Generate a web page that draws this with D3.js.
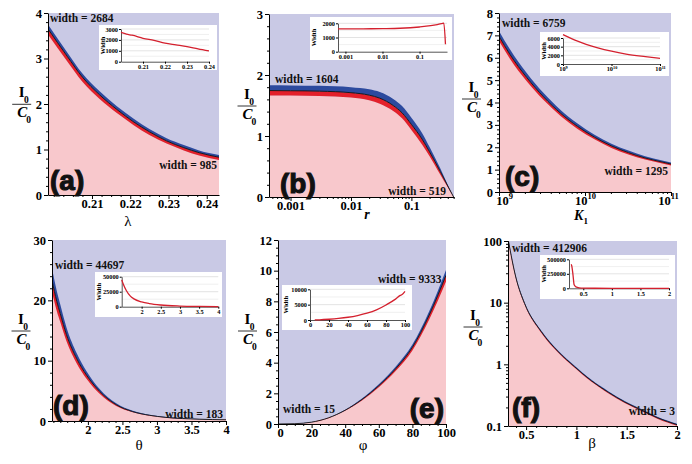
<!DOCTYPE html>
<html><head><meta charset="utf-8">
<script src="https://cdn.jsdelivr.net/npm/d3@7"></script>
<style>body{margin:0;background:#fff}svg{display:block}</style>
</head><body>
<svg id="c" width="692" height="464"></svg>
<script>
// ---------------- DATA ----------------
const panelLetters = ["(a)", "(b)", "(c)", "(d)", "(e)", "(f)"];
const xAxisTitles = ["λ", "r", "K", "θ", "φ", "β"];
const widthTopLabels = ["width = 2684", "width = 1604", "width = 6759", "width = 44697", "width = 9333", "width = 412906"];
const widthBottomLabels = ["width = 985", "width = 519", "width = 1295", "width = 183", "width = 15", "width = 3"];

// (a) lambda
const lambdaVals = [0.1985, 0.2035, 0.2075, 0.212, 0.2165, 0.221, 0.225, 0.2295, 0.234, 0.238, 0.2432];
const aMid = [3.65, 3.05, 2.59, 2.20, 1.88, 1.60, 1.39, 1.19, 1.04, 0.93, 0.83];
const aHi  = [3.75, 3.14, 2.67, 2.28, 1.95, 1.67, 1.45, 1.25, 1.10, 0.98, 0.88];
const aLo  = [3.53, 2.94, 2.49, 2.11, 1.80, 1.53, 1.32, 1.13, 0.98, 0.87, 0.77];
const aXTicks = [0.21, 0.22, 0.23, 0.24];
const aYTicks = [0, 1, 2, 3, 4];
const aInsetX = [0.2, 0.2025, 0.205, 0.21, 0.215, 0.22, 0.225, 0.23, 0.235, 0.24];
const aInsetW = [2684, 2520, 2430, 2150, 1950, 1700, 1540, 1380, 1170, 985];
const aInsetYTicks = [0, 1000, 2000, 3000];

// (b) r
const rVals = [0.00044, 0.001, 0.003, 0.01, 0.02, 0.03, 0.05, 0.07, 0.1, 0.15, 0.2, 0.3, 0.4, 0.5];
const bMid = [1.745, 1.742, 1.735, 1.71, 1.67, 1.62, 1.50, 1.38, 1.19, 0.95, 0.74, 0.42, 0.18, 0];
const bHi  = [1.83, 1.828, 1.822, 1.80, 1.765, 1.72, 1.605, 1.49, 1.30, 1.05, 0.82, 0.47, 0.20, 0];
const bLo  = [1.665, 1.662, 1.655, 1.63, 1.585, 1.53, 1.41, 1.29, 1.10, 0.86, 0.67, 0.37, 0.16, 0];
const bXTicks = [0.001, 0.01, 0.1];
const bYTicks = [0, 1, 2, 3];
const bInsetX = [0.00063, 0.001, 0.003, 0.01, 0.03, 0.1, 0.2, 0.3, 0.4, 0.45, 0.5];
const bInsetW = [1604, 1606, 1612, 1625, 1650, 1740, 1830, 1910, 1980, 2010, 519];
const bInsetYTicks = [0, 1000, 2000];

// (c) K1
const kVals = [1e9, 1.34e9, 2.1e9, 3.3e9, 5.2e9, 8.2e9, 1.29e10, 2.03e10, 3.2e10, 5e10, 7.9e10, 1e11];
const cMid = [6.96, 6.15, 5.12, 4.25, 3.52, 2.93, 2.45, 2.06, 1.76, 1.52, 1.34, 1.25];
const cHi  = [7.20, 6.38, 5.32, 4.42, 3.67, 3.06, 2.56, 2.16, 1.85, 1.60, 1.41, 1.32];
const cLo  = [6.75, 5.96, 4.95, 4.11, 3.40, 2.82, 2.36, 1.97, 1.68, 1.45, 1.27, 1.18];
const cXTicks = [1e9, 1e10, 1e11];
const cYTicks = [0, 1, 2, 3, 4, 5, 6, 7, 8];
const cInsetX = [1e9, 1.5e9, 2e9, 3e9, 5e9, 1e10, 2e10, 5e10, 1e11];
const cInsetW = [6759, 5850, 5260, 4550, 3800, 2950, 2300, 1700, 1295];
const cInsetYTicks = [0, 2000, 4000, 6000];

// (d) theta
const thetaVals = [1.48, 1.55, 1.60, 1.69, 1.84, 1.98, 2.17, 2.41, 2.65, 2.89, 3.13, 3.61, 4.0];
const dMid = [23.3, 19.8, 17.8, 14.3, 10.3, 7.6, 4.9, 2.7, 1.55, 0.95, 0.6, 0.3, 0.2];
const dHi  = [25.3, 21.5, 19.3, 15.5, 11.2, 8.25, 5.3, 2.93, 1.68, 1.03, 0.65, 0.33, 0.22];
const dLo  = [21.4, 18.2, 16.4, 13.2, 9.5, 7.0, 4.5, 2.48, 1.43, 0.87, 0.55, 0.28, 0.18];
const dXTicks = [2, 2.5, 3, 3.5, 4];
const dYTicks = [0, 10, 20, 30];
const dInsetX = [1.48, 1.52, 1.6, 1.7, 1.8, 2.0, 2.2, 2.5, 3.0, 3.5, 4.0];
const dInsetW = [44697, 38000, 27000, 18000, 13000, 8000, 5200, 2800, 1100, 450, 183];
const dInsetXTicks = [2, 2.5, 3, 3.5, 4];
const dInsetYTicks = [0, 25000, 50000];

// (e) phi
const phiVals = [0, 10, 20, 30, 40, 50, 60, 70, 80, 90, 100];
const eMid = [0, 0.02, 0.12, 0.4, 0.9, 1.6, 2.5, 3.6, 5.0, 7.1, 9.7];
const eHi  = [0, 0.02, 0.125, 0.41, 0.93, 1.66, 2.59, 3.73, 5.18, 7.35, 10.05];
const eLo  = [0, 0.02, 0.115, 0.38, 0.86, 1.53, 2.40, 3.45, 4.80, 6.82, 9.3];
const eXTicks = [0, 20, 40, 60, 80, 100];
const eYTicks = [0, 2, 4, 6, 8, 10, 12];
const eInsetX = [5, 10, 20, 30, 40, 50, 60, 70, 80, 90, 95, 97, 100];
const eInsetW = [15, 60, 250, 520, 900, 1450, 2200, 3300, 4900, 6800, 8000, 8300, 9333];
const eInsetYTicks = [0, 5000, 10000];

// (f) beta
const betaVals = [0.322, 0.40, 0.485, 0.65, 0.82, 0.98, 1.15, 1.32, 1.48, 1.65, 1.81, 2.0];
const fMid = [105, 25, 9.7, 3.4, 1.6, 0.92, 0.54, 0.35, 0.245, 0.18, 0.135, 0.105];
const fHi  = [109, 26, 10.1, 3.54, 1.66, 0.955, 0.56, 0.363, 0.254, 0.187, 0.14, 0.109];
const fLo  = [101, 24, 9.3, 3.26, 1.54, 0.885, 0.52, 0.337, 0.236, 0.173, 0.13, 0.101];
const fXTicks = [0.5, 1, 1.5, 2];
const fYTicks = [0.1, 1, 10, 100];
const fInsetX = [0.29, 0.3, 0.32, 0.34, 0.37, 0.43, 0.5, 0.7, 1, 1.5, 2];
const fInsetW = [412906, 380000, 230000, 60000, 25000, 8000, 3000, 500, 100, 20, 3];
const fInsetXTicks = [0.5, 1, 1.5, 2];
const fInsetYTicks = [0, 250000, 500000];

// ---------------- DRAWING ----------------
const svg = d3.select("#c");
const COL = {lav: "#c9c9e5", pink: "#f8c8cc", red: "#e3202a", blue: "#2c4a9e", ins: "#d4202e"};
const SERIF = "'Liberation Serif', 'Times New Roman', serif";
const SANS = "'Liberation Sans', Arial, sans-serif";

function minorLog(dom) {
  const out = [];
  const lo = Math.floor(Math.log10(dom[0])), hi = Math.ceil(Math.log10(dom[1]));
  for (let e = lo; e < hi; e++) for (let k = 2; k <= 9; k++) {
    const v = k * Math.pow(10, e);
    if (v >= dom[0] && v <= dom[1]) out.push(v);
  }
  return out;
}
function minorLin(dom, step) {
  const out = [];
  for (let v = Math.ceil(dom[0] / step) * step; v <= dom[1] + 1e-9; v += step) out.push(+v.toFixed(6));
  return out;
}
const supFmt = d => "10^" + Math.round(Math.log10(d));

function styleAxis(a, size) {
  a.attr("font-family", null).attr("font-size", null);
  a.selectAll("text").style("font-family", SERIF).style("font-weight", "bold")
    .style("font-size", size + "px").attr("fill", "#000");
  a.select(".domain").attr("stroke", "#000");
  a.selectAll(".tick line").attr("stroke", "#000");
  a.selectAll("text").each(function () {
    const t = d3.select(this), s = t.text();
    if (s.startsWith("10^")) {
      const ex = s.slice(3);
      t.text("10");
      t.append("tspan").attr("dy", -size * 0.45).style("font-size", (size * 0.68) + "px").text(ex);
    }
  });
}
function txt(g, x, y, s, o) {
  o = o || {};
  return g.append("text").attr("x", x).attr("y", y).attr("text-anchor", o.a || "start")
    .style("font-family", o.fam || SERIF).style("font-weight", o.w || "bold")
    .style("font-style", o.it ? "italic" : "normal").style("font-size", (o.sz || 12) + "px")
    .attr("fill", o.fill || "#000").text(s);
}

const panels = [
  {L: 48, R: 219, T: 13, B: 195, xLog: false, xDom: [0.1985, 0.2432], yLog: false, yDom: [0, 4],
   xs: lambdaVals, lo: aLo, mid: aMid, hi: aHi, xTicks: aXTicks, yTicks: aYTicks,
   xFmt: d3.format(".2f"), yFmt: String, yMinor: minorLin([0, 4], 0.2), xMinor: minorLin([0.2, 0.24], 0.0025),
   xl: {x: 128, y: 226, italic: false, size: 15}, frac: {cx: 21.7, ly: 104.3},
   letter: {x: 50, y: 190}, wTop: {x: 50, y: 22, a: "start"}, wBot: {x: 217, y: 169, a: "end"},
   inset: {bx: 99, by: 25, bw: 118, bh: 45, L: 121, R: 209, T: 29, B: 61.7, xLog: false, xDom: [0.2, 0.24], yMax: 3000,
           xs: aInsetX, ws: aInsetW, xTicks: aXTicks, yTicks: aInsetYTicks, xFmt: d3.format(".2f")}},
  {L: 269, R: 454, T: 14, B: 197, xLog: true, xDom: [0.00044, 0.507], yLog: false, yDom: [0, 3],
   xs: rVals, lo: bLo, mid: bMid, hi: bHi, xTicks: bXTicks, yTicks: bYTicks,
   xFmt: String, yFmt: String, yMinor: minorLin([0, 3], 0.2), xMinor: minorLog([0.00044, 0.507]),
   xl: {x: 367, y: 219, italic: true, size: 14}, frac: {cx: 247, ly: 106},
   letter: {x: 280, y: 193}, wTop: {x: 275, y: 83, a: "start"}, wBot: {x: 446, y: 195, a: "end"},
   inset: {bx: 310, by: 17, bw: 142, bh: 43, L: 338, R: 447, T: 23.3, B: 51.7, xLog: true, xDom: [0.00063, 0.55], yMax: 2000,
           xs: bInsetX, ws: bInsetW, xTicks: bXTicks, yTicks: bInsetYTicks, xFmt: String}},
  {L: 499, R: 671, T: 13, B: 192, xLog: true, xDom: [1e9, 1e11], yLog: false, yDom: [0, 8],
   xs: kVals, lo: cLo, mid: cMid, hi: cHi, xTicks: cXTicks, yTicks: cYTicks, xShift: [5, 0, -3],
   xFmt: supFmt, yFmt: String, yMinor: minorLin([0, 8], 0.2), xMinor: minorLog([1e9, 1e11]),
   xl: {x: 581, y: 220, italic: true, size: 14, sub: "1"}, frac: {cx: 471.5, ly: 99},
   letter: {x: 505, y: 185.5}, wTop: {x: 502, y: 27, a: "start"}, wBot: {x: 668, y: 175, a: "end"},
   inset: {bx: 540, by: 32, bw: 129, bh: 44, L: 563, R: 660, T: 38, B: 64, xLog: true, xDom: [1e9, 1e11], yMax: 6000,
           xs: cInsetX, ws: cInsetW, xTicks: cXTicks, yTicks: cInsetYTicks, xFmt: supFmt}},
  {L: 52, R: 226, T: 240, B: 421, xLog: false, xDom: [1.48, 4], yLog: false, yDom: [0, 30],
   xs: thetaVals, lo: dLo, mid: dMid, hi: dHi, xTicks: dXTicks, yTicks: dYTicks,
   xFmt: String, yFmt: String, yMinor: minorLin([0, 30], 2), xMinor: minorLin([1.5, 4], 0.1),
   xl: {x: 139, y: 450, italic: false, size: 15}, frac: {cx: 21, ly: 331},
   letter: {x: 53, y: 415}, wTop: {x: 55, y: 269, a: "start"}, wBot: {x: 223, y: 418, a: "end"},
   inset: {bx: 95, by: 272, bw: 127, bh: 45, L: 121.7, R: 218.3, T: 276.7, B: 306.7, xLog: false, xDom: [1.48, 4], yMax: 50000,
           xs: dInsetX, ws: dInsetW, xTicks: dInsetXTicks, yTicks: dInsetYTicks, xFmt: String}},
  {L: 278, R: 446, T: 240, B: 424, xLog: false, xDom: [0, 100], yLog: false, yDom: [0, 12],
   xs: phiVals, lo: eLo, mid: eMid, hi: eHi, xTicks: eXTicks, yTicks: eYTicks, xShift: [2, 0, 0, 0, 0, 0],
   xFmt: String, yFmt: String, yMinor: minorLin([0, 12], 0.5), xMinor: minorLin([0, 100], 5),
   xl: {x: 363, y: 450, italic: false, size: 15}, frac: {cx: 247.5, ly: 331},
   letter: {x: 444, y: 418, a: "end"}, wTop: {x: 378, y: 283, a: "start"}, wBot: {x: 283, y: 413, a: "start"},
   inset: {bx: 282, by: 285, bw: 130, bh: 45, L: 310, R: 405, T: 289.3, B: 320, xLog: false, xDom: [0, 100], yMax: 10000,
           xs: eInsetX, ws: eInsetW, xTicks: eXTicks, yTicks: eInsetYTicks, xFmt: String}},
  {L: 508, R: 677, T: 241, B: 426, xLog: false, xDom: [0.32, 2], yLog: true, yDom: [0.1, 100],
   xs: betaVals, lo: fLo, mid: fMid, hi: fHi, xTicks: fXTicks, yTicks: fYTicks,
   xFmt: String, yFmt: String, yMinor: minorLog([0.1, 100]), xMinor: minorLin([0.4, 2], 0.1),
   xl: {x: 592, y: 448, italic: false, size: 15}, frac: {cx: 473, ly: 327},
   letter: {x: 512, y: 417}, wTop: {x: 512, y: 251.5, a: "start"}, wBot: {x: 675, y: 414.5, a: "end"},
   inset: {bx: 540, by: 255, bw: 135, bh: 44, L: 569, R: 669, T: 259.3, B: 288.3, xLog: false, xDom: [0.25, 2], yMax: 500000,
           xs: fInsetX, ws: fInsetW, xTicks: fInsetXTicks, yTicks: fInsetYTicks, xFmt: String}}
];

function drawPanel(p, i) {
  const g = svg.append("g");
  const x = (p.xLog ? d3.scaleLog() : d3.scaleLinear()).domain(p.xDom).range([p.L, p.R]);
  const y = (p.yLog ? d3.scaleLog() : d3.scaleLinear()).domain(p.yDom).range([p.B, p.T]);
  const cid = "clip" + i;
  g.append("clipPath").attr("id", cid).append("rect")
    .attr("x", p.L).attr("y", p.T).attr("width", p.R - p.L).attr("height", p.B - p.T);
  const pg = g.append("g").attr("clip-path", `url(#${cid})`);
  pg.append("rect").attr("x", p.L).attr("y", p.T).attr("width", p.R - p.L).attr("height", p.B - p.T).attr("fill", COL.lav);
  const rows = p.xs.map((v, k) => ({x: v, lo: p.lo[k], mid: p.mid[k], hi: p.hi[k]}));
  const X = d => x(d.x), cv = d3.curveMonotoneX;
  pg.append("path").datum(rows).attr("fill", COL.pink)
    .attr("d", d3.area().x(X).y0(p.B).y1(d => y(d.lo)).curve(cv));
  pg.append("path").datum(rows).attr("fill", COL.red)
    .attr("d", d3.area().x(X).y0(d => y(d.lo)).y1(d => y(d.mid)).curve(cv));
  pg.append("path").datum(rows).attr("fill", COL.blue)
    .attr("d", d3.area().x(X).y0(d => y(d.mid)).y1(d => y(d.hi)).curve(cv));
  pg.append("path").datum(rows).attr("fill", "none").attr("stroke", "#111").attr("stroke-width", 0.9)
    .attr("d", d3.line().x(X).y(d => y(d.mid)).curve(cv));

  // minor ticks
  g.append("g").attr("transform", `translate(${p.L},0)`)
    .call(d3.axisLeft(y).tickValues(p.yMinor.filter(v => !p.yTicks.includes(v))).tickSize(2).tickFormat(""))
    .call(s => { s.select(".domain").remove(); s.selectAll("line").attr("stroke", "#000"); });
  g.append("g").attr("transform", `translate(0,${p.B})`)
    .call(d3.axisBottom(x).tickValues(p.xMinor.filter(v => !p.xTicks.includes(v))).tickSize(2).tickFormat(""))
    .call(s => { s.select(".domain").remove(); s.selectAll("line").attr("stroke", "#000"); });
  // major axes
  const ax = g.append("g").attr("transform", `translate(0,${p.B})`)
    .call(d3.axisBottom(x).tickValues(p.xTicks).tickFormat(p.xFmt).tickSize(4).tickSizeOuter(0).tickPadding(0));
  const ay = g.append("g").attr("transform", `translate(${p.L},0)`)
    .call(d3.axisLeft(y).tickValues(p.yTicks).tickFormat(p.yFmt).tickSize(4).tickSizeOuter(0).tickPadding(2));
  styleAxis(ax, 12.5); styleAxis(ay, 12.5);
  if (p.xShift) ax.selectAll(".tick text").attr("dx", (d, k) => p.xShift[k] || 0);

  // x-axis title
  const xt = txt(g, p.xl.x, p.xl.y, xAxisTitles[i],
    {a: "middle", sz: p.xl.size, it: p.xl.italic, w: p.xl.italic ? "bold" : "normal"});
  if (p.xl.sub) xt.append("tspan").attr("dy", 4).style("font-size", "9px").style("font-style", "normal").text(p.xl.sub);

  // y-axis fraction I0 / C0
  const f = p.frac;
  txt(g, f.cx - 3, f.ly - 7.5, "I", {sz: 15});
  txt(g, f.cx + 2.3, f.ly - 1.5, "0", {sz: 9.5});
  g.append("line").attr("x1", f.cx - 9.5).attr("x2", f.cx + 9.5).attr("y1", f.ly).attr("y2", f.ly)
    .attr("stroke", "#000").attr("stroke-width", 0.8);
  txt(g, f.cx - 4.5, f.ly + 12.5, "C", {sz: 15, it: true});
  txt(g, f.cx + 4.5, f.ly + 18.5, "0", {sz: 9.5});

  // width labels
  [[p.wTop, widthTopLabels[i]], [p.wBot, widthBottomLabels[i]]].forEach(([w, s]) => {
    txt(g, w.x, w.y, s, {a: w.a, sz: 11.5, fill: "#111"});
  });

  // panel letter
  txt(g, p.letter.x, p.letter.y, panelLetters[i], {a: p.letter.a || "start", fam: SANS, sz: 28, fill: "#111"})
    .attr("stroke", "#111").attr("stroke-width", 1.1);

  drawInset(p.inset, i);
}

function drawInset(n, i) {
  const g = svg.append("g");
  g.append("rect").attr("x", n.bx).attr("y", n.by).attr("width", n.bw).attr("height", n.bh).attr("fill", "#fff");
  const x = (n.xLog ? d3.scaleLog() : d3.scaleLinear()).domain(n.xDom).range([n.L, n.R]);
  const y = d3.scaleLinear().domain([0, n.yMax]).range([n.B, n.T]);
  const step = n.yTicks[1] - n.yTicks[0];
  const grid = minorLin([0, n.yMax], step / 2).filter(v => v > 0);
  g.selectAll("line.grid").data(grid).join("line").attr("class", "grid")
    .attr("x1", n.L).attr("x2", n.R).attr("y1", d => y(d)).attr("y2", d => y(d))
    .attr("stroke", d => n.yTicks.includes(d) ? "#d0d0d0" : "#e6e6e6").attr("stroke-width", 0.6);
  const ax = g.append("g").attr("transform", `translate(0,${n.B})`)
    .call(d3.axisBottom(x).tickValues(n.xTicks).tickFormat(n.xFmt).tickSize(2).tickSizeOuter(0).tickPadding(1));
  const ay = g.append("g").attr("transform", `translate(${n.L},0)`)
    .call(d3.axisLeft(y).tickValues(n.yTicks).tickFormat(String).tickSize(2).tickSizeOuter(0).tickPadding(1));
  styleAxis(ax, 6.3); styleAxis(ay, 6.3);
  ax.select(".domain").attr("stroke", "#555"); ay.select(".domain").attr("stroke", "#555");
  const rows = n.xs.map((v, k) => ({x: v, w: n.ws[k]}));
  g.append("path").datum(rows).attr("fill", "none").attr("stroke", COL.ins).attr("stroke-width", 1.3)
    .attr("d", d3.line().x(d => x(d.x)).y(d => y(d.w)).curve(d3.curveMonotoneX));
  txt(g, 0, 0, "Width", {a: "middle", sz: 6.5})
    .attr("transform", `translate(${n.bx + 6},${(n.T + n.B) / 2}) rotate(-90)`);
}

panels.forEach(drawPanel);
</script>
</body></html>
